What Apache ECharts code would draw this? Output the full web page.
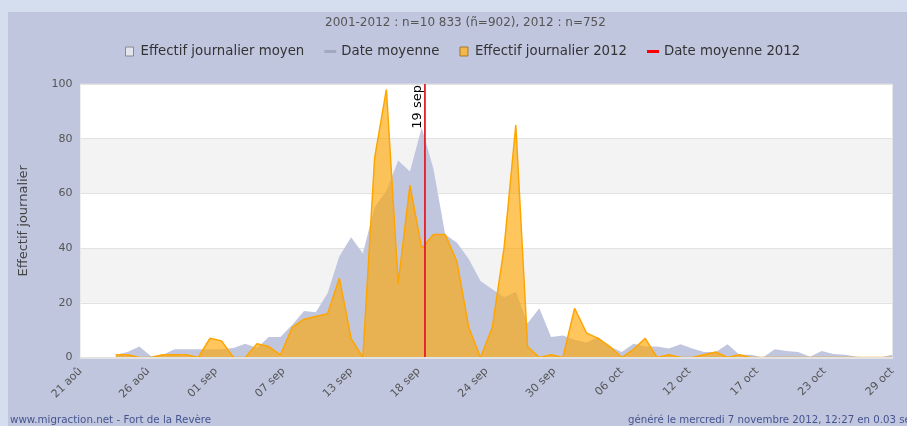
<!DOCTYPE html>
<html><head><meta charset="utf-8">
<script src="https://cdn.jsdelivr.net/npm/echarts@6/dist/echarts.min.js"></script>
<style>
html,body{margin:0;padding:0;background:#d4deef;width:907px;height:426px;overflow:hidden}
#c{position:absolute;left:8px;top:12px;width:899px;height:414px;background:#c1c6df}
</style></head><body><div id="c"></div>
<script>
// x axis: day index 0 = 21 août 2012 ... 69 = 29 oct 2012
const tickLabels = ['21 aoû','26 aoû','01 sep','07 sep','13 sep','18 sep','24 sep','30 sep','06 oct','12 oct','17 oct','23 oct','29 oct'];
const titleText = '2001-2012 : n=10 833 (ñ=902), 2012 : n=752';
const seriesNames = ['Effectif journalier moyen','Date moyenne','Effectif journalier 2012','Date moyenne 2012'];
// Effectif journalier moyen (2001-2012)
const meanValues = [null,null,null,1,2,4,0.5,1,3,3,3,3,3,3.5,5,3.5,7.5,7.5,12,17,16.5,23.5,37,44,38,55,61,72,68,84,69,45,42,36,28,25,22,24,12.5,18,7.5,8,6.5,5.5,7.5,4,2,5,4,4,3.3,4.8,3.3,2,2,4.8,1,1,0,3,2.4,2,0.3,2.4,1.3,1,0.3,0,0,1];
// Effectif journalier 2012
const values2012 = [null,null,null,1,1,0,0,1,1,1,0,7,6,0,0,5,4,1,11,14,15,16,29,7,0,73,98,27,63,40,45,45,35,11,0,11,40,85,4,0,1,0,18,9,7,4,0,3,7,0,1,0,0,1,2,0,1,0,0,0,0,0,0,0,0,0,0,0,0,0];
// mean dates (day index, fractional)
const meanDate = 29.22;
const meanDate2012 = 29.27;
const meanDateLabel = '19 sep';
const footerLeft = 'www.migraction.net - Fort de la Revère';
const footerRight = 'généré le mercredi 7 novembre 2012, 12:27 en 0.03 sec';

const FONT = 'DejaVu Sans, Verdana, sans-serif';
const tickStep = (meanValues.length - 1) / (tickLabels.length - 1);

const chart = echarts.init(document.getElementById('c'), null, {renderer:'canvas'});
chart.setOption({
  animation:false,
  textStyle:{fontFamily:FONT},
  title:{text:titleText,left:312,top:0,textStyle:{fontSize:12,fontWeight:'normal',color:'#555',fontFamily:FONT}},
  legend:{
    top:28,left:112,itemGap:20,itemWidth:12,itemHeight:9,
    textStyle:{fontSize:13.3,color:'#333',fontFamily:FONT},
    data:[
      {name:seriesNames[0],icon:'path://M0,0h8v9h-8z',itemStyle:{color:'#e2e4ee',borderColor:'#8a8a8a',borderWidth:1}},
      {name:seriesNames[1],icon:'path://M0,0h12v3h-12z',itemStyle:{color:'#a2a7c2',borderWidth:0}},
      {name:seriesNames[2],icon:'path://M0,0h8v9h-8z',itemStyle:{color:'#f5b74a',borderColor:'#a07a30',borderWidth:1}},
      {name:seriesNames[3],icon:'path://M0,0h12v3h-12z',itemStyle:{color:'#ff0000',borderWidth:0}}
    ]
  },
  grid:{left:72.5,right:14.7,top:72,bottom:68.5,show:true,backgroundColor:'#ffffff',borderColor:'#dedede',borderWidth:1,outerBoundsMode:'none'},
  xAxis:{
    type:'value',min:0,max:meanValues.length-1,interval:tickStep,z:5,
    axisLine:{show:true,lineStyle:{color:'#e2e2e2',width:2}},
    axisTick:{show:false},
    splitLine:{show:false},
    axisLabel:{rotate:45,margin:12,fontSize:11,color:'#555',fontFamily:FONT,showMinLabel:true,showMaxLabel:true,
      formatter:v=>tickLabels[Math.round(v/tickStep)]}
  },
  yAxis:{
    type:'value',min:0,max:100,interval:20,
    name:'Effectif journalier',nameLocation:'middle',nameGap:50,nameRotate:90,
    nameTextStyle:{fontSize:13,color:'#444',fontFamily:FONT},
    axisLine:{show:false},axisTick:{show:false},
    axisLabel:{margin:8,fontSize:11,color:'#555',fontFamily:FONT},
    splitLine:{show:true,lineStyle:{color:'#e2e2e2',width:1}},
    splitArea:{show:true,areaStyle:{color:['#ffffff','#f3f3f3']}}
  },
  series:[
    {name:seriesNames[0],type:'line',data:meanValues.map((v,i)=>[i,v]),symbol:'none',z:1,silent:true,
      itemStyle:{color:'#c1c6df'},lineStyle:{width:0,opacity:0},areaStyle:{color:'#c1c6df',opacity:1}},
    {name:seriesNames[1],type:'line',data:[],symbol:'none',itemStyle:{color:'#a2a7c2'},z:2,
      markLine:{symbol:'none',silent:true,animation:false,lineStyle:{color:'#8c92b0',type:'solid',width:1},label:{show:false},data:[{xAxis:meanDate}]}},
    {name:seriesNames[2],type:'line',data:values2012.map((v,i)=>[i,v]),symbol:'none',z:3,silent:true,
      itemStyle:{color:'#ffa500'},lineStyle:{color:'#ffa500',width:1.5},areaStyle:{color:'#ffa500',opacity:0.63}},
    {name:seriesNames[3],type:'line',data:[],symbol:'none',itemStyle:{color:'#ff0000'},z:4,
      markLine:{symbol:'none',silent:true,animation:false,lineStyle:{color:'#ff0000',type:'solid',width:1.5},
        label:{show:true,formatter:meanDateLabel,position:'insideEndTop',distance:[1,1],color:'#000',fontSize:13,fontFamily:FONT},
        data:[{xAxis:meanDate2012}]}}
  ],
  graphic:[
    {type:'text',left:2,top:403,style:{text:footerLeft,fill:'#44548e',font:'10.3px '+FONT}},
    {type:'text',left:620,top:403,style:{text:footerRight,fill:'#44548e',font:'10.2px '+FONT}}
  ]
});
</script></body></html>
